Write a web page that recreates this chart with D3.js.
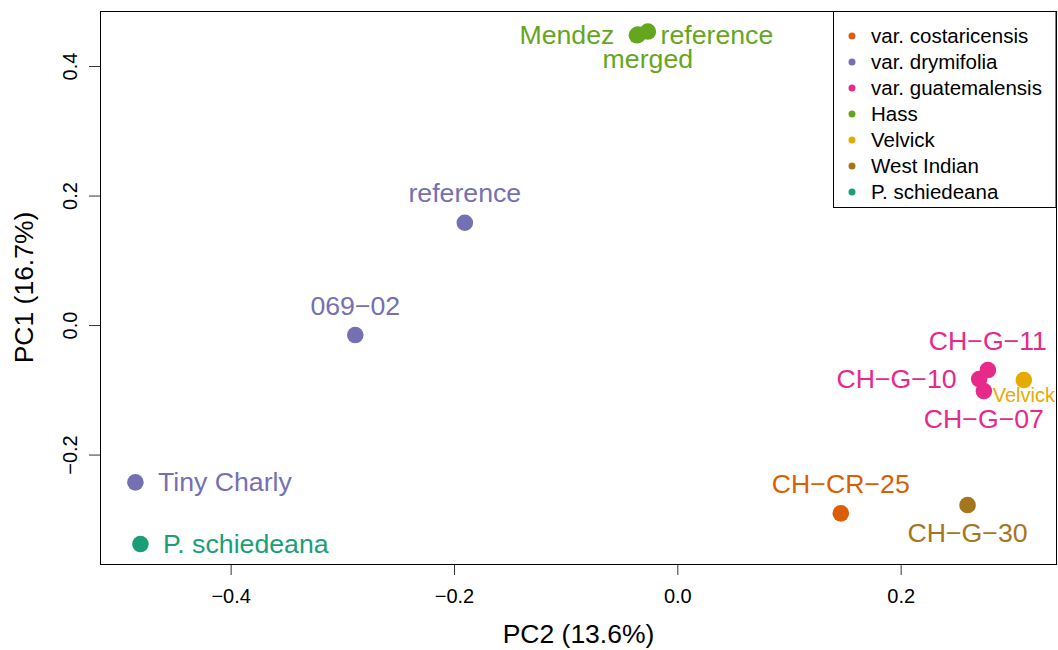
<!DOCTYPE html>
<html>
<head>
<meta charset="utf-8">
<script src="https://cdn.jsdelivr.net/npm/d3@7"></script>
<style>
  html, body { margin: 0; padding: 0; background: #fff; }
  svg { display: block; font-family: "Liberation Sans", Arial, Helvetica, sans-serif; }
</style>
</head>
<body>
<svg id="chart" width="1058" height="650"></svg>
<script>
// PCA of avocado accessions: PC2 on x, PC1 on y
const groups = ["var. costaricensis", "var. drymifolia", "var. guatemalensis", "Hass", "Velvick", "West Indian", "P. schiedeana"];
const groupColors = ["#D95F02", "#7570B3", "#E7298A", "#66A61E", "#E6AB02", "#A6761D", "#1B9E77"];

const sampleNames  = ["CH\u2212CR\u221225", "069\u221202", "reference", "Tiny Charly", "CH\u2212G\u221211", "CH\u2212G\u221210", "CH\u2212G\u221207", "Mendez", "reference", "merged", "Velvick", "CH\u2212G\u221230", "P. schiedeana"];
const sampleGroups = ["var. costaricensis", "var. drymifolia", "var. drymifolia", "var. drymifolia", "var. guatemalensis", "var. guatemalensis", "var. guatemalensis", "Hass", "Hass", "Hass", "Velvick", "West Indian", "P. schiedeana"];
const pc2Values    = [0.1464, -0.2884, -0.1903, -0.4853, 0.2781, 0.2703, 0.2745, -0.0362, -0.0352, -0.0264, 0.3103, 0.2599, -0.4808];
const pc1Values    = [-0.2908, -0.0154, 0.1580, -0.2429, -0.0695, -0.0834, -0.1019, 0.4475, 0.4485, 0.4533, -0.0849, -0.2780, -0.3382];
const labelSides   = ["above", "above", "above", "right", "above", "left", "below", "left", "right", "below", "below", "below", "right"];
const smallLabel   = [false, false, false, false, false, false, false, false, false, false, true, false, false];

const xLimits = [-0.517, 0.340];
const yLimits = [-0.369, 0.485];
const xTicks = [-0.4, -0.2, 0.0, 0.2];
const yTicks = [-0.2, 0.0, 0.2, 0.4];
const xTitle = "PC2 (13.6%)";
const yTitle = "PC1 (16.7%)";

const plot = { left: 100, right: 1057, top: 11, bottom: 564 };
const svg = d3.select("#chart");

const x = d3.scaleLinear().domain(xLimits).range([plot.left, plot.right]);
const y = d3.scaleLinear().domain(yLimits).range([plot.bottom, plot.top]);
const color = d3.scaleOrdinal().domain(groups).range(groupColors);

const fmt = v => d3.format(".1f")(v).replace("-", "\u2212");

// x axis
const gx = svg.append("g")
  .attr("transform", `translate(0,${plot.bottom})`)
  .call(d3.axisBottom(x).tickValues(xTicks).tickFormat(fmt).tickSize(11).tickPadding(14));
gx.select(".domain").remove();
gx.selectAll(".tick line").attr("stroke", "#333");
gx.selectAll(".tick text").attr("font-size", 20).attr("fill", "#000")
  .attr("font-family", "'Liberation Sans', Arial, sans-serif");

// y axis with rotated labels
const gy = svg.append("g")
  .attr("transform", `translate(${plot.left},0)`)
  .call(d3.axisLeft(y).tickValues(yTicks).tickFormat(fmt).tickSize(11));
gy.select(".domain").remove();
gy.selectAll(".tick line").attr("stroke", "#333");
gy.selectAll(".tick text")
  .attr("font-size", 20).attr("fill", "#000")
  .attr("font-family", "'Liberation Sans', Arial, sans-serif")
  .attr("text-anchor", "middle")
  .attr("dy", 0)
  .attr("x", 0)
  .attr("transform", "translate(-23,0) rotate(-90)");

// axis titles
svg.append("text")
  .attr("x", (plot.left + plot.right) / 2).attr("y", 643)
  .attr("text-anchor", "middle").attr("font-size", 26.5).text(xTitle);
svg.append("text")
  .attr("transform", `translate(33,${(plot.top + plot.bottom) / 2}) rotate(-90)`)
  .attr("text-anchor", "middle").attr("font-size", 26.5).text(yTitle);

// points
const samples = sampleNames.map((name, i) => ({
  name, group: sampleGroups[i], px: pc2Values[i], py: pc1Values[i],
  side: labelSides[i], small: smallLabel[i]
}));

svg.append("g").selectAll("circle")
  .data(samples).join("circle")
  .attr("cx", d => x(d.px)).attr("cy", d => y(d.py))
  .attr("r", 8.3)
  .attr("fill", d => color(d.group));

// sample labels
const gap = 22.5;
svg.append("g").selectAll("text")
  .data(samples).join("text")
  .attr("font-size", d => d.small ? 20 : 26.7)
  .attr("fill", d => color(d.group))
  .attr("text-anchor", d => d.side === "left" ? "end" : d.side === "right" ? "start" : "middle")
  .attr("x", d => {
    const cx = x(d.px);
    if (d.side === "left") return cx - gap;
    if (d.side === "right") return cx + gap;
    return cx;
  })
  .attr("y", d => {
    const cy = y(d.py);
    if (d.side === "above") return cy - 20.5;
    if (d.side === "below") return cy + (d.small ? 21.5 : 36.5);
    return cy + 9;
  })
  .text(d => d.name);

// plot frame
svg.append("rect")
  .attr("x", plot.left + 0.5).attr("y", plot.top + 0.5)
  .attr("width", plot.right - plot.left - 1).attr("height", plot.bottom - plot.top)
  .attr("fill", "none").attr("stroke", "#000").attr("stroke-width", 1);

// legend
const legend = svg.append("g");
legend.append("rect")
  .attr("x", 833.5).attr("y", plot.top + 0.5)
  .attr("width", 1056 - 833.5).attr("height", 196)
  .attr("fill", "#fff").attr("stroke", "#000").attr("stroke-width", 1);
const rows = legend.selectAll("g.row").data(groups).join("g")
  .attr("class", "row")
  .attr("transform", (d, i) => `translate(0,${36 + i * 26})`);
rows.append("circle").attr("cx", 852).attr("cy", 0).attr("r", 3.5).attr("fill", d => color(d));
rows.append("text").attr("x", 871).attr("y", 7).attr("font-size", 20.5).attr("fill", "#000").text(d => d);
</script>
</body>
</html>
